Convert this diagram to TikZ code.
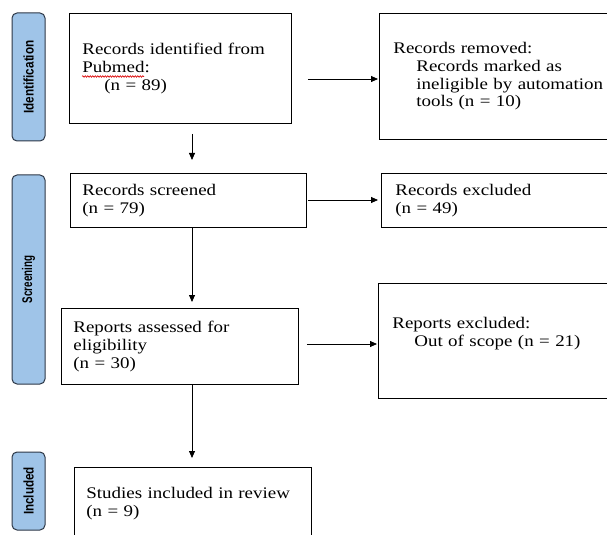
\documentclass[tikz,border=0pt]{standalone}
\usepackage{fontspec}
\usepackage{graphicx}
\setmainfont{Liberation Serif}[FakeStretch=1.17]
\newfontfamily\barfont{Liberation Sans}
\usetikzlibrary{arrows.meta,decorations.pathmorphing}
\definecolor{barfill}{RGB}{159,196,232}
\definecolor{barline}{RGB}{45,55,70}
\tikzset{
  box/.style={draw=black, line width=0.8bp, rectangle, anchor=north west, align=left,
    inner ysep=0pt, font=\fontsize{16.2bp}{17.7bp}\selectfont},
  bar/.style={draw=barline, fill=barfill, line width=1bp, rounded corners=5bp, rotate=90,
    minimum height=33bp, inner sep=0pt, font=\barfont\bfseries\fontsize{14bp}{14bp}\selectfont},
  arr/.style={draw=black, line width=0.8bp, -{Triangle[length=7bp,width=6bp]}},
  squig/.style={draw=red!85!black, line width=0.6bp, decorate,
    decoration={snake, amplitude=0.8bp, segment length=2.5bp}}
}
\begin{document}
\begin{tikzpicture}[x=1bp, y=-1bp]
\useasboundingbox (0,0) rectangle (607,535);
\clip (0,0) rectangle (607,535);

% phase bars
\node[bar, minimum width=128bp] (bid) at (28.5,77) {\scalebox{0.838}[1]{Identification}};
\node[bar, minimum width=209bp] (bsc) at (28.5,279.5) {\scalebox{0.70}[1]{Screening}};
\node[bar, minimum width=78bp] (bin) at (28.5,491) {\scalebox{0.833}[1]{Included}};

% boxes
\node[box, minimum width=222bp, minimum height=110bp, text width=196bp, inner xsep=13bp]
  (idbox) at (69,13) {Records identified from\\Pubmed:\\\hspace*{22bp}(n = 89)};
\node[box, minimum width=262bp, minimum height=126bp, text width=234bp, inner xsep=14bp]
  (rembox) at (379,13) {Records removed:\\\hspace*{23bp}Records marked as\\\hspace*{23bp}ineligible by automation\\\hspace*{23bp}tools (n = 10)};
\node[box, minimum width=236bp, minimum height=54bp, text width=212bp, inner xsep=12bp]
  (scrbox) at (70,173) {Records screened\\(n = 79)};
\node[box, minimum width=240bp, minimum height=54bp, text width=212bp, inner xsep=14bp]
  (excbox) at (381,173) {Records excluded\\(n = 49)};
\node[box, minimum width=237bp, minimum height=76bp, text width=213bp, inner xsep=12bp]
  (repbox) at (61,308) {Reports assessed for\\eligibility\\(n = 30)};
\node[box, minimum width=240bp, minimum height=115bp, text width=212bp, inner xsep=14bp]
  (rexbox) at (378,283) {Reports excluded:\\\hspace*{22bp}Out of scope (n = 21)\\\mbox{}};
\node[box, minimum width=237bp, minimum height=73bp, text width=213bp, inner xsep=12bp]
  (stbox) at (74,467) {Studies included in review\\(n = 9)};

% spell-check underline
\draw[squig] (82,76.5) -- (144,76.5);

% connectors
\coordinate (vx) at (192,0);
\coordinate (h1) at (0,79);
\coordinate (h2) at (0,200);
\coordinate (h3) at (0,344);
\draw[arr, shorten <=10bp, shorten >=13bp] (idbox.south -| vx) -- (scrbox.north -| vx);
\draw[arr, shorten >=6bp] (scrbox.south -| vx) -- (repbox.north -| vx);
\draw[arr, shorten >=9bp] (repbox.south -| vx) -- (stbox.north -| vx);
\draw[arr, shorten <=16bp, shorten >=1bp] (idbox.east |- h1) -- (rembox.west |- h1);
\draw[arr, shorten <=1bp, shorten >=3bp] (scrbox.east |- h2) -- (excbox.west |- h2);
\draw[arr, shorten <=8bp, shorten >=1bp] (repbox.east |- h3) -- (rexbox.west |- h3);
\end{tikzpicture}
\end{document}
